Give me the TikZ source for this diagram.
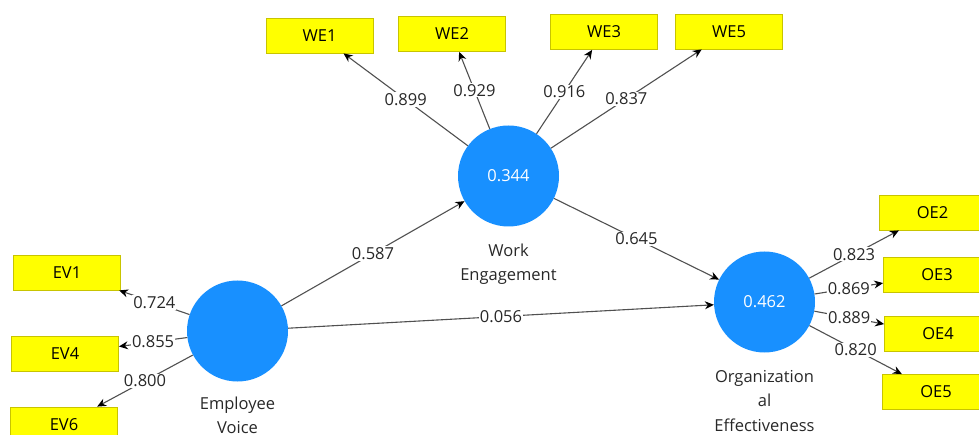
\documentclass[tikz,border=0pt]{standalone}
\usepackage{fontspec}
\setmainfont{Open Sans}
\usetikzlibrary{arrows.meta}
\definecolor{lvblue}{RGB}{24,144,255}
\definecolor{indyellow}{RGB}{255,255,0}
\definecolor{indborder}{RGB}{200,196,0}
\definecolor{pathgray}{RGB}{80,80,80}
\definecolor{lbltext}{RGB}{40,40,40}
\tikzset{
  latent/.style={circle, fill=lvblue, draw=none, minimum size=101pt, inner sep=0pt,
    text=white, font=\fontsize{16.5}{20}\selectfont},
  indicator/.style={rectangle, fill=indyellow, draw=indborder, line width=0.8pt,
    minimum width=107pt, minimum height=35pt, inner sep=0pt,
    font=\fontsize{16.5}{20}\selectfont},
  lvname/.style={anchor=north, align=center, inner sep=0pt, text=lbltext,
    font=\fontsize{16.5}{24.5}\selectfont},
  coef/.style={fill=white, inner sep=1pt, text=lbltext, font=\fontsize{16.5}{20}\selectfont},
  pathline/.style={draw=pathgray, line width=1.1pt,
    -{Stealth[length=9pt,width=8pt,fill=black,color=black]}},
}
\begin{document}
\begin{tikzpicture}[x=1pt,y=-1pt]
\useasboundingbox (0,0) rectangle (979,435);
\clip (0,0) rectangle (979,435);

% latent variables
\node[latent] (we) at (508.5,176) {0.344};
\node[latent] (ev) at (237.5,331) {};
\node[latent] (oe) at (764.5,302) {0.462};

% names under the latent variables
\node[lvname] (wename) at ([yshift=-17pt]we.south) {Work\\Engagement};
\node[lvname] (evname) at ([yshift=-15pt]ev.south) {Employee\\Voice};
\node[lvname] (oename) at ([yshift=-17pt]oe.south) {Organization\\al\\Effectiveness};

% indicators
\node[indicator] (we1) at (319.5,35.5) {WE1};
\node[indicator] (we2) at (452,34) {WE2};
\node[indicator] (we3) at (604,32) {WE3};
\node[indicator] (we5) at (729,31.5) {WE5};

\node[indicator] (ev1) at (67,272.5) {EV1};
\node[indicator] (ev4) at (65,353.5) {EV4};
\node[indicator] (ev6) at (64,424.5) {EV6};

\node[indicator] (oe2) at (932.5,212.5) {OE2};
\node[indicator] (oe3) at (937,274.5) {OE3};
\node[indicator] (oe4) at (938,334) {OE4};
\node[indicator] (oe5) at (936,392) {OE5};

% outer loadings
\draw[pathline] (we) -- node[coef] {0.899} (we1);
\draw[pathline] (we) -- node[coef] {0.929} (we2);
\draw[pathline] (we) -- node[coef] {0.916} (we3);
\draw[pathline] (we) -- node[coef] {0.837} (we5);

\draw[pathline] (ev) -- node[coef] {0.724} (ev1);
\draw[pathline] (ev) -- node[coef] {0.855} (ev4);
\draw[pathline] (ev) -- node[coef] {0.800} (ev6);

\draw[pathline] (oe) -- node[coef] {0.823} (oe2);
\draw[pathline] (oe) -- node[coef] {0.869} (oe3);
\draw[pathline] (oe) -- node[coef] {0.889} (oe4);
\draw[pathline] (oe) -- node[coef] {0.820} (oe5);

% structural paths
\draw[pathline] (ev) -- node[coef] {0.587} (we);
\draw[pathline] (we) -- node[coef] {0.645} (oe);
\draw[pathline] (ev) -- node[coef] {0.056} (oe);
\end{tikzpicture}
\end{document}
